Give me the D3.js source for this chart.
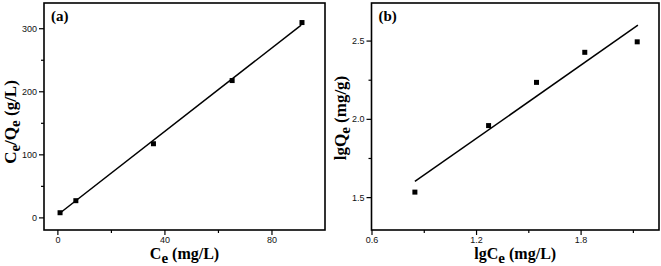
<!DOCTYPE html>
<html><head><meta charset="utf-8">
<script src="https://cdn.jsdelivr.net/npm/d3@7"></script>
<style>
html,body{margin:0;padding:0;background:#fff;}
svg{display:block;}
.tick text{font-family:Arial,"Liberation Sans",sans-serif;font-size:9px;fill:#111;}
.title{font-family:"Liberation Serif","Times New Roman",serif;font-weight:bold;fill:#000;}
</style></head>
<body>
<svg id="chart" width="661" height="266"></svg>
<script>
// Panel (a): Langmuir
const ceA = [1.0, 6.9, 35.9, 65.3, 91.4];
const ratioA = [7.4, 26.5, 116.8, 217, 309];
const fitAx = [1.0, 91.1];
const fitAy = [7, 305];
const xTicksA = [0, 40, 80];
const xMinorA = [20, 60];
const yTicksA = [0, 100, 200, 300];
const yMinorA = [50, 150, 250];

// Panel (b): Freundlich
const lgCe = [0.849, 1.272, 1.547, 1.824, 2.125];
const lgQe = [1.532, 1.957, 2.233, 2.425, 2.492];
const fitBx = [0.849, 2.129];
const fitBy = [1.60, 2.598];
const xTicksB = [0.6, 1.2, 1.8];
const xMinorB = [0.9, 1.5, 2.1];
const yTicksB = [1.5, 2.0, 2.5];
const yMinorB = [1.75, 2.25];

const svg = d3.select("#chart");

function panel(o){
  const g = svg.append("g");
  const x = d3.scaleLinear().domain(o.xDom).range([o.left, o.right]);
  const y = d3.scaleLinear().domain(o.yDom).range([o.bottom, o.top]);
  // minor ticks
  g.append("g").attr("transform",`translate(0,${o.bottom})`)
    .call(d3.axisBottom(x).tickValues(o.xMinor).tickSize(3).tickFormat(""))
    .call(s=>s.select(".domain").remove())
    .selectAll("line").attr("stroke","#000").attr("stroke-width",1.2);
  g.append("g").attr("transform",`translate(${o.left},0)`)
    .call(d3.axisLeft(y).tickValues(o.yMinor).tickSize(3).tickFormat(""))
    .call(s=>s.select(".domain").remove())
    .selectAll("line").attr("stroke","#000").attr("stroke-width",1.2);
  // major
  const xa = g.append("g").attr("transform",`translate(0,${o.bottom})`)
    .call(d3.axisBottom(x).tickValues(o.xTicks).tickSize(5).tickPadding(2).tickFormat(o.xFmt));
  xa.select(".domain").remove();
  xa.selectAll("line").attr("stroke","#000").attr("stroke-width",1.2);
  const ya = g.append("g").attr("transform",`translate(${o.left},0)`)
    .call(d3.axisLeft(y).tickValues(o.yTicks).tickSize(5).tickPadding(2).tickFormat(o.yFmt));
  ya.select(".domain").remove();
  ya.selectAll("line").attr("stroke","#000").attr("stroke-width",1.2);
  // frame
  g.append("rect").attr("x",o.left).attr("y",o.top)
    .attr("width",o.right-o.left).attr("height",o.bottom-o.top)
    .attr("fill","none").attr("stroke","#000").attr("stroke-width",1.6);
  // fit line
  const line = d3.line().x(d=>x(d[0])).y(d=>y(d[1]));
  g.append("path").datum(d3.zip(o.fitX,o.fitY)).attr("d",line)
    .attr("fill","none").attr("stroke","#000").attr("stroke-width",1.5);
  // points
  g.selectAll("rect.pt").data(d3.zip(o.xs,o.ys)).enter().append("rect")
    .attr("class","pt").attr("x",d=>x(d[0])-2.5).attr("y",d=>y(d[1])-2.5)
    .attr("width",5).attr("height",5).attr("fill","#000");
  // panel label
  g.append("text").attr("class","title").attr("x",o.left+7).attr("y",o.top+18)
    .attr("font-size",15).text(o.tag);
  // x title
  const xt = g.append("text").attr("class","title").attr("font-size",16)
    .attr("x",(o.left+o.right)/2).attr("y",259).attr("text-anchor","middle");
  o.xTitle.forEach(p=>{
    const t = xt.append("tspan").text(p.t);
    if(p.sub) t.attr("font-size",15).attr("dy",4);
    else if(p.after) t.attr("dy",-4);
  });
  // y title
  const yt = g.append("text").attr("class","title").attr("font-size",17)
    .attr("transform",`translate(${o.yTitleX},${o.yTitleY}) rotate(-90)`)
    .attr("text-anchor","middle");
  o.yTitle.forEach(p=>{
    const t = yt.append("tspan").text(p.t);
    if(p.sub) t.attr("font-size",15).attr("dy",4);
    else if(p.after) t.attr("dy",-4);
  });
}

panel({
  left:44, right:325, top:3, bottom:230,
  xDom:[-5,100], yDom:[-20,340],
  xTicks:xTicksA, xMinor:xMinorA, yTicks:yTicksA, yMinor:yMinorA,
  xFmt:d3.format("d"), yFmt:d3.format("d"),
  xs:ceA, ys:ratioA, fitX:fitAx, fitY:fitAy, tag:"(a)",
  xTitle:[{t:"C"},{t:"e",sub:true},{t:" (mg/L)",after:true}],
  yTitle:[{t:"C"},{t:"e",sub:true},{t:"/Q",after:true},{t:"e",sub:true},{t:" (g/L)",after:true}],
  yTitleX:16, yTitleY:122
});

panel({
  left:371.5, right:659, top:3, bottom:230,
  xDom:[0.6,2.25], yDom:[1.29,2.74],
  xTicks:xTicksB, xMinor:xMinorB, yTicks:yTicksB, yMinor:yMinorB,
  xFmt:d3.format(".1f"), yFmt:d3.format(".1f"),
  xs:lgCe, ys:lgQe, fitX:fitBx, fitY:fitBy, tag:"(b)",
  xTitle:[{t:"lgC"},{t:"e",sub:true},{t:" (mg/L)",after:true}],
  yTitle:[{t:"lgQ"},{t:"e",sub:true},{t:" (mg/g)",after:true}],
  yTitleX:346, yTitleY:118
});
</script>
</body></html>
